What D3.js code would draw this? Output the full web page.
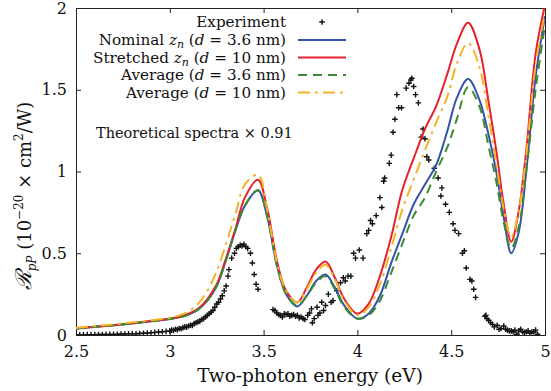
<!DOCTYPE html>
<html lang="en">
<head>
  <meta charset="utf-8">
  <title>Two-photon spectra</title>
  <style>
    body { margin: 0; background: #fff; }
    svg text { font-family: 'DejaVu Serif', serif; fill: #111; }
  </style>
</head>
<body>
  <script src="https://d3js.org/d3.v7.min.js"></script>
  <svg width="551" height="391"></svg>
  <script>
    // theory curves share one energy grid (eV)
    var energy = [2.5, 2.6, 2.7, 2.8, 2.9, 3.0, 3.05, 3.1, 3.15, 3.2, 3.25, 3.3, 3.35, 3.4, 3.47, 3.52, 3.57, 3.62, 3.68,
      3.73, 3.78, 3.83, 3.88, 3.93, 4.0, 4.06, 4.12, 4.18, 4.24, 4.3, 4.36, 4.42, 4.48, 4.53, 4.59, 4.65, 4.7, 4.74,
      4.78, 4.82, 4.86, 4.9, 4.95, 5.0];

    var nominal36 = [0.04, 0.05, 0.06, 0.071, 0.084, 0.098, 0.108, 0.125, 0.155, 0.21, 0.3, 0.46, 0.64, 0.79, 0.885,
      0.72, 0.43, 0.25, 0.175, 0.24, 0.33, 0.37, 0.29, 0.18, 0.1, 0.13, 0.24, 0.44, 0.62, 0.8, 0.92, 1.04, 1.25, 1.45,
      1.565, 1.44, 1.22, 1.0, 0.72, 0.5, 0.63, 1.0, 1.58, 1.95];
    var stretched10 = [0.04, 0.05, 0.06, 0.072, 0.085, 0.1, 0.11, 0.13, 0.16, 0.22, 0.31, 0.47, 0.65, 0.84, 0.95,
      0.77, 0.46, 0.27, 0.2, 0.29, 0.4, 0.45, 0.35, 0.22, 0.13, 0.19, 0.36, 0.6, 0.89, 1.08, 1.26, 1.4, 1.6, 1.78,
      1.91, 1.75, 1.42, 1.13, 0.8, 0.57, 0.76, 1.13, 1.72, 2.02];
    var average36 = [0.04, 0.05, 0.06, 0.071, 0.084, 0.098, 0.108, 0.125, 0.155, 0.21, 0.3, 0.46, 0.64, 0.79, 0.885,
      0.72, 0.43, 0.25, 0.18, 0.24, 0.32, 0.36, 0.28, 0.17, 0.1, 0.12, 0.21, 0.38, 0.56, 0.73, 0.84, 1.0, 1.15, 1.32,
      1.515, 1.4, 1.15, 0.94, 0.69, 0.53, 0.66, 1.0, 1.5, 1.9];
    var average10 = [0.045, 0.055, 0.065, 0.077, 0.09, 0.105, 0.12, 0.145, 0.19, 0.27, 0.39, 0.56, 0.74, 0.92, 0.98,
      0.76, 0.45, 0.27, 0.2, 0.28, 0.38, 0.43, 0.34, 0.21, 0.12, 0.17, 0.31, 0.53, 0.77, 0.95, 1.13, 1.3, 1.46, 1.66,
      1.785, 1.64, 1.33, 1.05, 0.77, 0.6, 0.76, 1.1, 1.65, 1.97];

    // experiment
    var expEnergy = [2.5, 2.52, 2.54, 2.56, 2.58, 2.6, 2.62, 2.64, 2.66, 2.68, 2.7, 2.72, 2.74, 2.76, 2.78, 2.8, 2.82,
      2.84, 2.86, 2.88, 2.9, 2.92, 2.94, 2.96, 2.98, 3.0, 3.01, 3.02, 3.03, 3.04, 3.05, 3.06, 3.07, 3.08, 3.09, 3.1,
      3.11, 3.12, 3.13, 3.14, 3.15, 3.16, 3.17, 3.18, 3.19, 3.2, 3.21, 3.22, 3.23, 3.24, 3.25, 3.26, 3.27, 3.28, 3.29,
      3.3, 3.31, 3.315, 3.33, 3.345, 3.355, 3.365, 3.375, 3.385, 3.395, 3.405, 3.415, 3.43, 3.44, 3.45, 3.46, 3.47,
      3.55, 3.56, 3.57, 3.58, 3.59, 3.6, 3.61, 3.62, 3.63, 3.64, 3.65, 3.66, 3.67, 3.68, 3.69, 3.7, 3.71, 3.72, 3.735,
      3.745, 3.755, 3.76, 3.77, 3.785, 3.79, 3.8, 3.81, 3.82, 3.83, 3.845, 3.86, 3.87, 3.89, 3.91, 3.925, 3.935, 3.95,
      3.965, 3.98, 3.99, 4.01, 4.03, 4.05, 4.06, 4.07, 4.08, 4.1, 4.12, 4.13, 4.14, 4.145, 4.17, 4.18, 4.19, 4.2, 4.21,
      4.22, 4.235, 4.26, 4.275, 4.285, 4.29, 4.3, 4.31, 4.325, 4.34, 4.35, 4.36, 4.37, 4.38, 4.41, 4.43, 4.445, 4.45,
      4.47, 4.49, 4.51, 4.52, 4.54, 4.56, 4.57, 4.58, 4.6, 4.61, 4.62, 4.63, 4.68, 4.685, 4.69, 4.7, 4.71, 4.72, 4.73,
      4.745, 4.755, 4.765, 4.78, 4.79, 4.8, 4.81, 4.82, 4.83, 4.84, 4.85, 4.86, 4.87, 4.88, 4.89, 4.9, 4.91, 4.92,
      4.93, 4.94, 4.95, 4.96];
    var expSignal = [0.0, 0.001, 0.001, 0.002, 0.002, 0.002, 0.003, 0.003, 0.004, 0.004, 0.004, 0.005, 0.006, 0.006,
      0.007, 0.007, 0.008, 0.009, 0.011, 0.012, 0.014, 0.016, 0.018, 0.02, 0.022, 0.025, 0.03, 0.028, 0.035, 0.033,
      0.04, 0.038, 0.045, 0.05, 0.048, 0.055, 0.06, 0.058, 0.07, 0.075, 0.08, 0.085, 0.095, 0.1, 0.11, 0.12, 0.13,
      0.14, 0.15, 0.17, 0.19, 0.2, 0.22, 0.24, 0.27, 0.3, 0.36, 0.4, 0.47, 0.5, 0.53, 0.54, 0.55, 0.545, 0.555, 0.54,
      0.53, 0.5, 0.44, 0.37, 0.31, 0.28,
      0.155, 0.15, 0.135, 0.125, 0.12, 0.11, 0.13, 0.125, 0.13, 0.115, 0.12, 0.125, 0.115, 0.12, 0.105, 0.11, 0.1,
      0.095, 0.12, 0.135, 0.16, 0.075, 0.1, 0.17, 0.12, 0.135, 0.2, 0.15, 0.18, 0.25, 0.2, 0.21, 0.27, 0.32, 0.35,
      0.33, 0.36, 0.36, 0.5, 0.47, 0.52, 0.47, 0.62, 0.64, 0.7, 0.68, 0.73, 0.84, 0.78, 0.94, 0.96, 1.05, 1.1, 1.24,
      1.32, 1.47, 1.39, 1.39, 1.51, 1.54, 1.56, 1.57, 1.52, 1.47, 1.42, 1.21, 1.26, 1.2, 1.09, 1.07, 1.02, 0.96, 0.85,
      0.9, 0.8, 0.75, 0.68, 0.64, 0.62, 0.5, 0.515, 0.41, 0.34, 0.33, 0.28, 0.23,
      0.115, 0.12, 0.1, 0.09, 0.075, 0.065, 0.05, 0.06, 0.035, 0.04, 0.055, 0.035, 0.03, 0.025, 0.025, 0.02, 0.03,
      0.005, 0.025, 0.035, 0.02, 0.015, 0.02, 0.025, 0.01, 0.02, 0.02, 0.03, 0.005];

    var xTicks = [2.5, 3, 3.5, 4, 4.5, 5];
    var yTicks = [0, 0.5, 1, 1.5, 2];

    const margin = { left: 76, right: 6, top: 8, bottom: 56 };
    const serif = "DejaVu Serif";

    const svg = d3.select('svg');
    const width = +svg.attr('width');
    const height = +svg.attr('height');
    const innerWidth = width - margin.left - margin.right;
    const innerHeight = height - margin.top - margin.bottom;

    var x = d3.scaleLinear().domain([2.5, 5]).range([0, innerWidth]);
    var y = d3.scaleLinear().domain([0, 2]).range([innerHeight, 0]);

    var g = svg.append("g").attr("transform", "translate(" + margin.left + "," + margin.top + ")");

    svg.append("defs").append("clipPath").attr("id", "plotclip")
      .append("rect").attr("width", innerWidth).attr("height", innerHeight);

    // axes with inward ticks on all four sides
    function fmt(d) { return d3.format("")(d); }

    g.append("g").attr("class", "x axis")
      .attr("transform", "translate(0," + innerHeight + ")")
      .call(d3.axisBottom(x).tickValues(xTicks).tickSize(-5).tickPadding(11).tickFormat(fmt));
    g.append("g").attr("class", "x2 axis")
      .call(d3.axisTop(x).tickValues(xTicks).tickSize(-5).tickFormat(""));
    g.append("g").attr("class", "y axis")
      .call(d3.axisLeft(y).tickValues(yTicks).tickSize(-5).tickPadding(9).tickFormat(fmt));
    g.append("g").attr("class", "y2 axis")
      .attr("transform", "translate(" + innerWidth + ",0)")
      .call(d3.axisRight(y).tickValues(yTicks).tickSize(-5).tickFormat(""));

    g.selectAll(".axis").attr("font-family", serif).attr("font-size", 16);
    g.selectAll(".x2 .tick text, .y2 .tick text").remove();
    g.selectAll(".axis .domain").attr("stroke", "#222").attr("stroke-width", 1);
    g.selectAll(".axis .tick line").attr("stroke", "#222");
    g.selectAll(".axis .tick text").attr("fill", "#111");

    var plot = g.append("g").attr("clip-path", "url(#plotclip)");

    // experiment crosses
    var cross = 2.8;
    plot.append("g").selectAll("path")
      .data(expEnergy.map(function (e, i) { return [e, expSignal[i]]; }))
      .enter().append("path")
      .attr("d", function (d) {
        var cx = x(d[0]), cy = y(d[1]);
        return "M" + (cx - cross) + "," + cy + "H" + (cx + cross) + "M" + cx + "," + (cy - cross) + "V" + (cy + cross);
      })
      .attr("stroke", "#111")
      .attr("stroke-width", 1.4);

    var series = [
      { values: nominal36, color: "#3553a8", dash: null },
      { values: stretched10, color: "#e8212b", dash: null },
      { values: average36, color: "#3b8a36", dash: "9,6" },
      { values: average10, color: "#f3b428", dash: "12,5,3,5" }
    ];

    var line = d3.line()
      .x(function (d) { return x(d[0]); })
      .y(function (d) { return y(d[1]); })
      .curve(d3.curveCatmullRom.alpha(0.5));

    series.forEach(function (s) {
      plot.append("path")
        .datum(energy.map(function (e, i) { return [e, s.values[i]]; }))
        .attr("fill", "none")
        .attr("stroke", s.color)
        .attr("stroke-width", 2)
        .attr("stroke-dasharray", s.dash)
        .attr("d", line);
    });

    // legend
    var legend = svg.append("g").attr("font-family", serif).attr("font-size", 15.2);
    var legRows = [
      { y: 22, parts: [["Experiment", ""]], mark: "cross" },
      { y: 40, parts: [["Nominal ", ""], ["z", "i"], ["n", "sub"], [" (", "up"], ["d", "i"], [" = 3.6 nm)", ""]], s: series[0] },
      { y: 57.5, parts: [["Stretched ", ""], ["z", "i"], ["n", "sub"], [" (", "up"], ["d", "i"], [" = 10 nm)", ""]], s: series[1] },
      { y: 75, parts: [["Average (", ""], ["d", "i"], [" = 3.6 nm)", ""]], s: series[2] },
      { y: 92.5, parts: [["Average (", ""], ["d", "i"], [" = 10 nm)", ""]], s: series[3] }
    ];
    legRows.forEach(function (r) {
      var t = legend.append("text").attr("x", 286).attr("y", r.y + 5).attr("text-anchor", "end");
      r.parts.forEach(function (p) {
        var ts = t.append("tspan").text(p[0]);
        if (p[1] == "i") ts.style("font-style", "italic");
        if (p[1] == "sub") ts.style("font-style", "italic").style("font-size", "11px").attr("dy", 3);
        if (p[1] == "up") ts.attr("dy", -3);
      });
      if (r.mark == "cross") {
        legend.append("path")
          .attr("d", "M" + (322 - cross) + "," + r.y + "H" + (322 + cross) + "M322," + (r.y - cross) + "V" + (r.y + cross))
          .attr("stroke", "#111").attr("stroke-width", 1.4);
      } else {
        legend.append("line")
          .attr("x1", 298).attr("x2", 346).attr("y1", r.y).attr("y2", r.y)
          .attr("stroke", r.s.color).attr("stroke-width", 2)
          .attr("stroke-dasharray", r.s.dash);
      }
    });

    svg.append("text")
      .attr("x", 96).attr("y", 138)
      .attr("font-size", 14.5)
      .text("Theoretical spectra \u00d7 0.91");

    // axis titles
    svg.append("text")
      .attr("x", 310).attr("y", 382)
      .attr("text-anchor", "middle")
      .attr("font-size", 18.5)
      .text("Two-photon energy (eV)");

    var yl = svg.append("text")
      .attr("transform", "translate(31,196) rotate(-90)")
      .attr("text-anchor", "middle")
      .attr("font-size", 18);
    yl.append("tspan").text("\u211b").style("font-style", "italic").style("font-size", "22px");
    yl.append("tspan").text("pP").style("font-style", "italic").style("font-size", "12px").attr("dy", 5);
    yl.append("tspan").text(" (10").attr("dy", -5);
    yl.append("tspan").text("\u221220").style("font-size", "12px").attr("dy", -8);
    yl.append("tspan").text(" \u00d7 cm").attr("dy", 8);
    yl.append("tspan").text("2").style("font-size", "12px").attr("dy", -8);
    yl.append("tspan").text("/W)").attr("dy", 8);
  </script>
</body>

</html>
